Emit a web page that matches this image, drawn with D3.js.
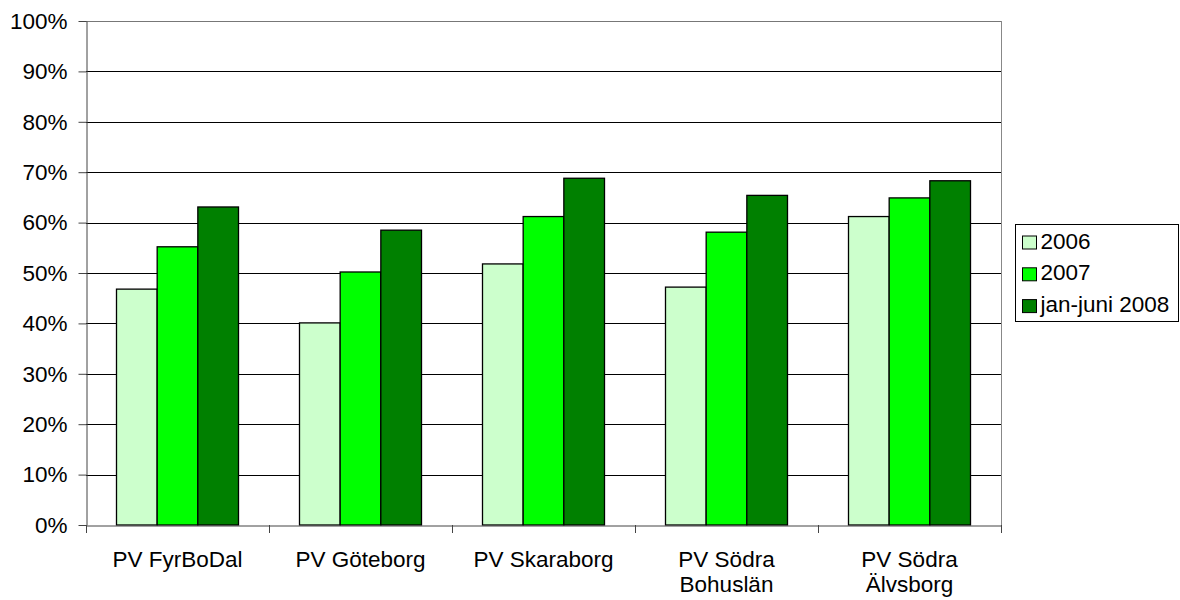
<!DOCTYPE html>
<html lang="sv">
<head>
<meta charset="utf-8">
<title>PV andel</title>
<script src="https://d3js.org/d3.v7.min.js"></script>
<style>
  body { margin: 0; background: #fff; }
  text { font-family: "Liberation Sans", Arial, sans-serif; fill: #000; }
</style>
</head>
<body>
<script>
// data
const categories = ["PV FyrBoDal", "PV Göteborg", "PV Skaraborg", "PV Södra\nBohuslän", "PV Södra\nÄlvsborg"];
const seriesNames = ["2006", "2007", "jan-juni 2008"];
const v2006 = [46.8, 40.1, 51.8, 47.2, 61.2];
const v2007 = [55.2, 50.2, 61.2, 58.1, 64.9];
const v2008 = [63.1, 58.5, 68.8, 65.4, 68.3];
const yTicks = [0, 10, 20, 30, 40, 50, 60, 70, 80, 90, 100];
const colors = ["#ccffcc", "#00ff00", "#008000"];

const w = 1180, h = 600;
const plotL = 86, plotR = 1001, plotT = 21, plotB = 525;
const fs = 22.5;

const svg = d3.select("body").append("svg")
    .attr("width", w).attr("height", h);

const x = d3.scaleBand().domain(categories).range([plotL, plotR])
    .paddingInner(0).paddingOuter(0);
const x1 = d3.scaleBand().domain(seriesNames)
    .range([x.bandwidth() * 0.75 / 4.5, x.bandwidth() - x.bandwidth() * 0.75 / 4.5]);
const y = d3.scaleLinear().domain([0, 100]).range([plotB, plotT]);

// gridlines
svg.append("g").selectAll("line").data(yTicks.filter(d => d > 0)).join("line")
    .attr("x1", plotL).attr("x2", plotR)
    .attr("y1", d => Math.round(y(d)) + 0.5).attr("y2", d => Math.round(y(d)) + 0.5)
    .attr("stroke", d => d === 100 ? "#777" : "#000").attr("stroke-width", 1);

// plot border right
svg.append("line").attr("x1", plotR + 0.5).attr("x2", plotR + 0.5)
    .attr("y1", plotT).attr("y2", plotB).attr("stroke", "#888");

const rows = categories.map((c, i) => ({ cat: c, vals: [v2006[i], v2007[i], v2008[i]] }));

svg.append("g").selectAll("g").data(rows).join("g")
    .attr("transform", d => `translate(${x(d.cat)},0)`)
  .selectAll("rect").data(d => d.vals.map((v, j) => ({ name: seriesNames[j], v, j }))).join("rect")
    .attr("x", d => x1(d.name))
    .attr("width", x1.bandwidth())
    .attr("y", d => y(d.v))
    .attr("height", d => plotB - y(d.v))
    .attr("fill", d => colors[d.j])
    .attr("stroke", "#000").attr("stroke-width", 1.3);

// y axis
const yAxis = d3.axisLeft(y).tickValues(yTicks).tickFormat(d => d + "%")
    .tickSize(8).tickSizeOuter(0);
const gy = svg.append("g").attr("transform", `translate(${plotL + 0.5},0)`).call(yAxis);
gy.select(".domain").attr("stroke", "#444");
gy.selectAll(".tick line").attr("stroke", "#444");
gy.selectAll(".tick text").attr("font-size", fs).attr("x", -19)
    .attr("font-family", "Liberation Sans, Arial, sans-serif").attr("fill", "#000");

// x axis
const xAxis = d3.axisBottom(x).tickSize(0).tickFormat("");
const gx = svg.append("g").attr("transform", `translate(0,${plotB + 0.5})`).call(xAxis);
gx.select(".domain").attr("stroke", "#444");
gx.selectAll(".tick").remove();
// category separator ticks
svg.append("g").selectAll("line").data(categories.concat(["end"])).join("line")
    .attr("x1", (d, i) => Math.round(plotL + i * x.bandwidth()) + 0.5)
    .attr("x2", (d, i) => Math.round(plotL + i * x.bandwidth()) + 0.5)
    .attr("y1", plotB).attr("y2", plotB + 8)
    .attr("stroke", "#444");

// category labels
svg.append("g").selectAll("text").data(categories).join("text")
    .attr("x", d => x(d) + x.bandwidth() / 2)
    .attr("y", 567)
    .attr("text-anchor", "middle")
    .attr("font-size", fs)
    .each(function (d) {
        const lines = d.split("\n");
        d3.select(this).selectAll("tspan").data(lines).join("tspan")
            .attr("x", x(d) + x.bandwidth() / 2)
            .attr("dy", (l, i) => i === 0 ? 0 : 24.5)
            .text(l => l);
    });

// legend
const lg = svg.append("g");
lg.append("rect").attr("x", 1015.5).attr("y", 224.5).attr("width", 163).attr("height", 97)
    .attr("fill", "#fff").attr("stroke", "#000");
const li = lg.selectAll("g").data(seriesNames).join("g")
    .attr("transform", (d, i) => `translate(1022,${242.5 + i * 31.8})`);
li.append("rect").attr("x", 0.5).attr("y", -6.5).attr("width", 14).attr("height", 13)
    .attr("fill", (d, i) => colors[i]).attr("stroke", "#000");
li.append("text").attr("x", 18.5).attr("y", 6).attr("font-size", fs).text(d => d);
</script>
</body>
</html>
